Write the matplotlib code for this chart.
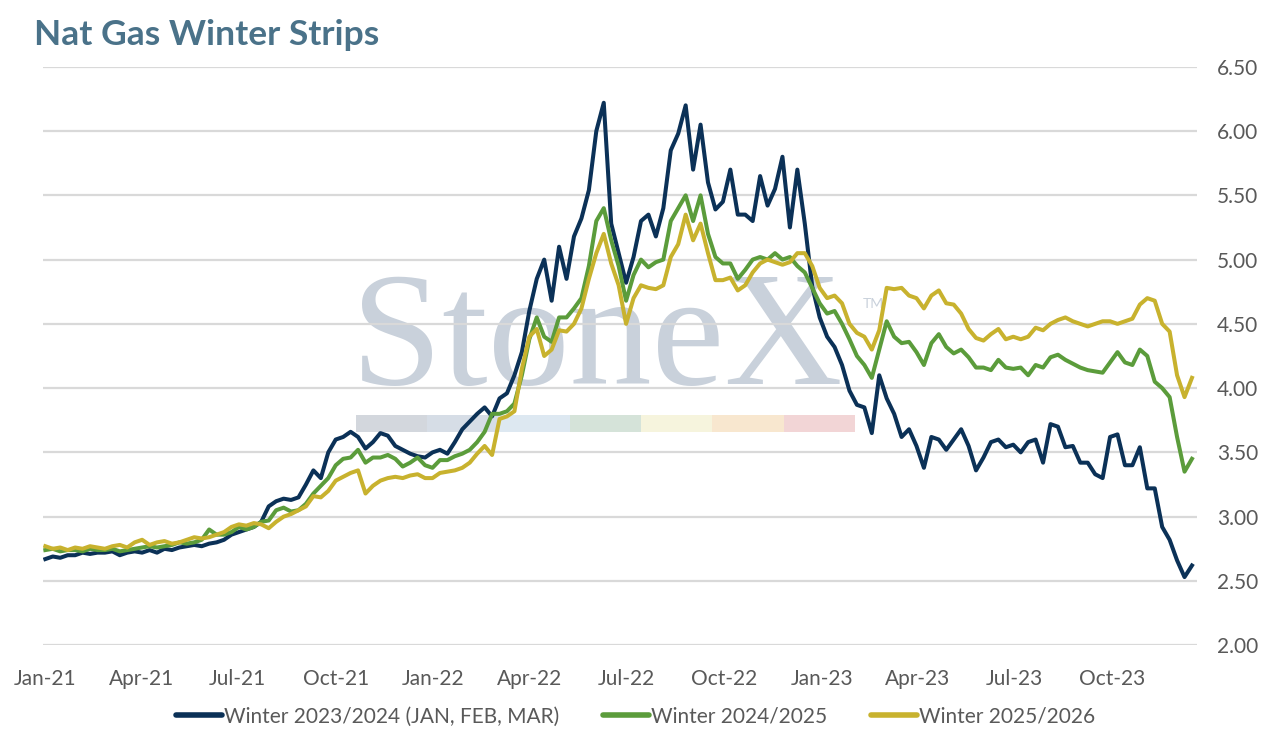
import matplotlib
matplotlib.use("Agg")
import matplotlib.pyplot as plt
import matplotlib.dates as mdates
import pandas as pd

plt.rcParams['font.family'] = ['Lato', 'DejaVu Sans']

# weekly settlement readings, starting 2021-01-01
dates = pd.date_range("2021-01-01", periods=155, freq="7D")

winter_2324 = [
    2.67, 2.69, 2.68, 2.70, 2.70, 2.72, 2.71, 2.72, 2.72, 2.73,
    2.70, 2.72, 2.73, 2.72, 2.74, 2.72, 2.75, 2.74, 2.76, 2.77,
    2.78, 2.77, 2.79, 2.80, 2.82, 2.86, 2.88, 2.90, 2.92, 2.96,
    3.08, 3.12, 3.14, 3.13, 3.15, 3.25, 3.36, 3.30, 3.50, 3.60,
    3.62, 3.66, 3.62, 3.53, 3.58, 3.65, 3.63, 3.55, 3.52, 3.49,
    3.47, 3.46, 3.50, 3.52, 3.49, 3.58, 3.68, 3.74, 3.80, 3.85,
    3.78, 3.92, 3.96, 4.10, 4.28, 4.60, 4.85, 5.00, 4.68, 5.10,
    4.85, 5.18, 5.32, 5.54, 6.00, 6.22, 5.28, 5.05, 4.82, 5.02,
    5.30, 5.35, 5.18, 5.40, 5.85, 5.98, 6.20, 5.70, 6.05, 5.60,
    5.39, 5.45, 5.70, 5.35, 5.35, 5.30, 5.65, 5.42, 5.55, 5.80,
    5.25, 5.70, 5.28, 4.79, 4.55, 4.40, 4.32, 4.18, 3.98, 3.87,
    3.85, 3.65, 4.10, 3.92, 3.80, 3.62, 3.68, 3.55, 3.38, 3.62,
    3.60, 3.52, 3.60, 3.68, 3.55, 3.36, 3.46, 3.58, 3.60, 3.54,
    3.56, 3.50, 3.58, 3.60, 3.42, 3.72, 3.70, 3.54, 3.55, 3.42,
    3.42, 3.33, 3.30, 3.62, 3.64, 3.40, 3.40, 3.54, 3.22, 3.22,
    2.92, 2.82, 2.66, 2.53, 2.62,
]

winter_2425 = [
    2.74, 2.75, 2.73, 2.74, 2.74, 2.73, 2.75, 2.74, 2.74, 2.75,
    2.73, 2.74, 2.75, 2.76, 2.77, 2.76, 2.77, 2.78, 2.80, 2.79,
    2.80, 2.82, 2.90, 2.86, 2.86, 2.88, 2.92, 2.90, 2.92, 2.96,
    2.97, 3.05, 3.07, 3.04, 3.05, 3.10, 3.18, 3.24, 3.30, 3.40,
    3.45, 3.46, 3.52, 3.42, 3.46, 3.46, 3.48, 3.45, 3.39, 3.42,
    3.46, 3.40, 3.38, 3.44, 3.44, 3.47, 3.49, 3.52, 3.58, 3.66,
    3.80, 3.80, 3.82, 3.88, 4.10, 4.38, 4.55, 4.40, 4.36, 4.55,
    4.55, 4.62, 4.70, 4.95, 5.30, 5.40, 5.15, 4.95, 4.68, 4.88,
    5.00, 4.94, 4.98, 5.00, 5.30, 5.40, 5.50, 5.30, 5.50, 5.20,
    5.02, 4.97, 4.97, 4.85, 4.92, 5.00, 5.02, 5.00, 5.05, 5.00,
    5.02, 4.95, 4.90, 4.78, 4.66, 4.58, 4.60, 4.50, 4.38, 4.25,
    4.18, 4.08, 4.30, 4.52, 4.40, 4.35, 4.36, 4.28, 4.18, 4.35,
    4.42, 4.32, 4.27, 4.30, 4.24, 4.16, 4.16, 4.14, 4.22, 4.16,
    4.15, 4.16, 4.10, 4.18, 4.16, 4.24, 4.26, 4.22, 4.19, 4.16,
    4.14, 4.13, 4.12, 4.20, 4.28, 4.20, 4.18, 4.30, 4.25, 4.05,
    4.00, 3.93, 3.62, 3.35, 3.45,
]

winter_2526 = [
    2.77, 2.75, 2.76, 2.74, 2.76, 2.75, 2.77, 2.76, 2.75, 2.77,
    2.78, 2.76, 2.80, 2.82, 2.78, 2.80, 2.81, 2.79, 2.80, 2.82,
    2.84, 2.83, 2.84, 2.86, 2.88, 2.92, 2.94, 2.93, 2.95, 2.94,
    2.91, 2.96, 3.00, 3.02, 3.05, 3.08, 3.16, 3.15, 3.20, 3.28,
    3.31, 3.34, 3.36, 3.18, 3.24, 3.28, 3.30, 3.31, 3.30, 3.32,
    3.33, 3.30, 3.30, 3.34, 3.35, 3.36, 3.38, 3.42, 3.49, 3.55,
    3.48, 3.76, 3.78, 3.82, 4.15, 4.40, 4.46, 4.25, 4.30, 4.45,
    4.44, 4.50, 4.62, 4.85, 5.05, 5.20, 4.97, 4.80, 4.50, 4.70,
    4.80, 4.78, 4.77, 4.80, 5.02, 5.12, 5.35, 5.15, 5.28, 5.05,
    4.84, 4.84, 4.86, 4.76, 4.80, 4.90, 4.97, 5.00, 4.98, 4.96,
    4.98, 5.05, 5.05, 4.95, 4.78, 4.70, 4.72, 4.66, 4.50, 4.43,
    4.40, 4.30, 4.45, 4.78, 4.77, 4.78, 4.72, 4.70, 4.62, 4.72,
    4.76, 4.66, 4.65, 4.58, 4.46, 4.39, 4.37, 4.42, 4.46, 4.38,
    4.40, 4.38, 4.40, 4.47, 4.45, 4.50, 4.53, 4.55, 4.52, 4.50,
    4.48, 4.50, 4.52, 4.52, 4.50, 4.52, 4.54, 4.65, 4.70, 4.68,
    4.50, 4.44, 4.10, 3.93, 4.08,
]

series_names = ["Winter 2023/2024 (JAN, FEB, MAR)", "Winter 2024/2025", "Winter 2025/2026"]
series_colors = ["#0b3157", "#5b9c3b", "#c8b22e"]

y_ticks = [2.0, 2.5, 3.0, 3.5, 4.0, 4.5, 5.0, 5.5, 6.0, 6.5]
x_ticks = pd.date_range("2021-01-01", "2023-10-01", freq="QS")

fig = plt.figure(figsize=(12.71, 7.34), dpi=100)
ax = fig.add_axes([0.034, 0.121, 0.908, 0.788])

# watermark
ax.text(0.267, 0.452, "StoneX", transform=ax.transAxes, fontsize=118,
        family="Liberation Serif", color="#c9d1db", ha="left", va="baseline", zorder=0.5)
ax.text(0.710, 0.59, "TM", transform=ax.transAxes, fontsize=10,
        color="#c9d1db", ha="left", va="center", zorder=0.5)
band_colors = ["#d3d7dd", "#d6dde6", "#dde8f1", "#d5e3d9", "#f6f4dd", "#f8e7cf", "#f2d5d6"]
bw = (0.7035 - 0.271) / len(band_colors)
for k, c in enumerate(band_colors):
    ax.add_patch(plt.Rectangle((0.271 + k * bw, 0.3685), bw, 0.0295, transform=ax.transAxes,
                               facecolor=c, edgecolor="none", zorder=0.5))

for yv in y_ticks:
    ax.axhline(yv, color="#d9d9d9", lw=1.6, zorder=1)

for vals, name, col in zip([winter_2324, winter_2425, winter_2526], series_names, series_colors):
    ax.plot(dates, vals, color=col, lw=2.9, label=name, zorder=3, solid_joinstyle="round")

ax.set_ylim(2.0, 6.5)
ax.set_xlim(pd.Timestamp("2020-12-30"), pd.Timestamp("2023-12-20"))
ax.set_yticks(y_ticks)
ax.set_yticklabels([f"{v:.2f}" for v in y_ticks])
ax.yaxis.tick_right()
ax.set_xticks(x_ticks)
ax.xaxis.set_major_formatter(mdates.DateFormatter("%b-%y"))
ax.tick_params(axis="both", length=0, labelsize=15, labelcolor="#595959")
ax.tick_params(axis="x", pad=17)
ax.tick_params(axis="y", pad=14)
for s in ax.spines.values():
    s.set_visible(False)

fig.text(0.027, 0.952, "Nat Gas Winter Strips", fontsize=25.5, fontweight="bold",
         color="#4a7289", ha="left", va="center")

leg = fig.legend(loc="center", bbox_to_anchor=(0.5, 0.024), ncol=3, frameon=False,
                 fontsize=15, handlelength=2.2, handletextpad=0.1, columnspacing=2.1)
for t in leg.get_texts():
    t.set_color("#595959")
for h in leg.get_lines():
    h.set_linewidth(4)
    h.set_solid_capstyle("round")

fig.savefig("out.png", dpi=100)
